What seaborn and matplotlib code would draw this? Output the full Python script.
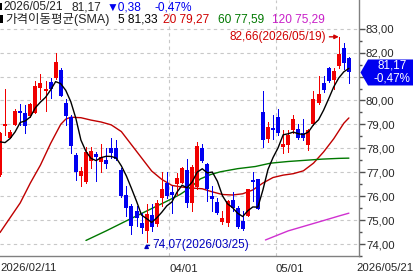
import numpy as np
import pandas as pd
import matplotlib
matplotlib.use("Agg")
import matplotlib.pyplot as plt
import seaborn as sns
from matplotlib.patches import Polygon, Rectangle
from matplotlib.transforms import IdentityTransform

# ---------------- data ----------------
opens = [76.90, 78.94, 78.45, 78.99, 79.54, 79.49, 79.35, 79.49, 80.52, 80.41,
         80.78, 80.92, 81.28, 79.90, 79.31, 77.72, 76.83, 76.59, 77.47, 77.75,
         77.42, 77.52, 78.03, 78.03, 77.10, 76.03, 75.59, 75.38, 74.90, 74.55,
         75.21, 74.83, 75.93, 76.55, 76.18, 76.52, 76.56, 77.11, 75.70, 76.39,
         78.00, 77.33, 76.00, 75.75, 74.92, 74.88, 75.83, 75.52, 74.97, 75.17,
         76.69, 76.72, 79.51, 78.38, 78.85, 79.31, 78.07, 78.14, 78.76, 78.82,
         78.62, 78.14, 79.03, 79.90, 80.75, 81.37, 80.86, 81.44, 82.20, 81.79]
highs = [78.70, 80.48, 78.76, 79.65, 79.86, 79.79, 79.88, 80.82, 81.10, 80.82,
         80.96, 81.99, 81.37, 80.07, 79.38, 77.79, 77.24, 78.07, 78.07, 77.86,
         78.16, 78.00, 78.44, 78.34, 77.17, 76.41, 75.66, 75.59, 75.31, 75.66,
         75.66, 75.82, 77.03, 77.03, 76.41, 76.96, 77.22, 77.56, 77.29, 78.25,
         78.20, 77.38, 76.41, 75.93, 75.38, 75.86, 76.18, 75.59, 75.38, 76.31,
         77.03, 76.72, 80.41, 79.10, 79.38, 79.65, 78.76, 78.76, 79.38, 79.03,
         79.24, 78.82, 80.41, 81.03, 81.03, 81.40, 81.37, 82.66, 82.41, 81.83]
lows = [76.85, 78.55, 78.42, 78.96, 78.96, 78.62, 79.31, 79.49, 80.07, 79.58,
        80.09, 80.89, 80.17, 78.96, 77.79, 76.69, 76.41, 76.55, 77.17, 76.62,
        77.03, 77.17, 77.58, 77.52, 75.96, 75.17, 74.42, 74.76, 74.48, 74.07,
        74.55, 74.76, 75.59, 75.93, 75.31, 76.07, 76.53, 75.56, 75.38, 76.32,
        77.42, 75.78, 75.38, 75.24, 74.84, 74.76, 75.38, 74.66, 74.59, 75.17,
        75.79, 75.45, 78.07, 78.25, 78.41, 78.55, 77.79, 77.86, 78.62, 78.38,
        78.34, 77.93, 78.96, 79.86, 80.34, 80.78, 80.48, 81.37, 81.31, 80.75]
closes = [78.62, 79.03, 78.69, 79.58, 79.49, 78.94, 79.86, 80.62, 80.75, 80.48,
          80.48, 81.61, 80.20, 79.35, 78.11, 77.01, 77.06, 77.83, 77.89, 77.64,
          77.64, 77.34, 77.79, 77.56, 76.00, 75.52, 74.76, 75.10, 74.66, 75.27,
          74.72, 75.72, 76.28, 76.00, 76.07, 76.76, 77.18, 75.73, 77.24, 78.11,
          77.47, 76.32, 75.90, 75.31, 75.08, 75.79, 75.52, 74.73, 74.63, 76.28,
          76.59, 75.48, 78.34, 78.89, 78.78, 78.62, 78.20, 78.55, 79.24, 78.44,
          78.44, 78.76, 80.06, 80.27, 80.45, 80.82, 81.24, 81.93, 81.55, 81.17]

ma5_head = [78.27, 78.24, 78.41, 78.69]

ma20_idx = [0, 2, 4, 6, 8, 10, 12, 13, 14, 16, 18, 20, 22, 24, 26, 28, 30, 32, 34,
            36, 38, 40, 42, 44, 46, 48, 50, 52, 54, 56, 58, 60, 62, 64, 66, 68, 69]
ma20_val = [74.48, 75.10, 75.72, 76.55, 77.30, 78.20, 79.00, 79.22, 79.30, 79.28,
            79.18, 79.10, 78.98, 78.70, 78.15, 77.60, 77.05, 76.70, 76.45,
            76.38, 76.34, 76.31, 76.18, 76.07, 76.05, 76.10, 76.26, 76.55, 76.78,
            76.88, 76.94, 77.06, 77.38, 77.85, 78.40, 79.05, 79.27]

ma60_idx = [17, 21, 25, 29, 33, 35.6, 37.6, 39.6, 41.6, 43.6, 47, 50.5, 53.5, 57,
            60.4, 63.8, 67, 69]
ma60_val = [74.15, 74.55, 74.97, 75.38, 75.79, 76.07, 76.35, 76.72, 76.90, 77.02,
            77.15, 77.24, 77.38, 77.45, 77.50, 77.55, 77.58, 77.59]

ma120_idx = [52.5, 57, 60.4, 63.8, 67, 69]
ma120_val = [74.17, 74.55, 74.76, 74.97, 75.17, 75.29]

first_date = "2026-02-11"
last_date = "2026-05-21"
market_holidays = ["2026-02-16", "2026-04-03"]
first_label = "2026/02/11"
last_label = "2026/05/21"
y_ticks = [74, 75, 76, 77, 78, 79, 80, 81, 82, 83]

header_date = "2026/05/21"
last_close = 81.17
change = -0.38
change_pct = -0.47
sma_title = "가격이동평균(SMA)"
sma_periods = [5, 20, 60, 120]
sma_last = [81.33, 79.27, 77.59, 75.29]
high_val, high_date = 82.66, "2026/05/19"
low_val, low_date = 74.07, "2026/03/25"

# ---------------- style ----------------
sns.set_theme(style="white")
plt.rcParams['font.family'] = ['Liberation Sans', 'Noto Sans CJK KR', 'DejaVu Sans']
plt.rcParams['font.size'] = 8

RED = "#F00000"
BLUE = "#0000F0"
MA_COLORS = ["#000000", "#C00000", "#007800", "#D030D0"]
TXT_COLORS = ["#000000", "#D00000", "#007800", "#C820C8"]
GRID = "#C8C8C8"
AXC = "#808080"
FS = 8.2
PX = 72 / 100  # one pixel in points

def fmt(v):
    return f"{v:.2f}".replace(".", ",")

W, H = 414, 275
fig = plt.figure(figsize=(W / 100, H / 100), dpi=100)
fig.patch.set_facecolor("white")
ax = fig.add_axes([0, 19 / H, 359 / W, 256 / H])
ax.set_facecolor("white")

dates = pd.bdate_range(first_date, last_date, freq="C", holidays=market_holidays)
n = len(dates)
idx = np.arange(n)

o = np.array(opens); c = np.array(closes)
hi = np.array(highs); lo = np.array(lows)
up = c >= o
cols = np.where(up, RED, BLUE)

XMAX = 71.0
ax.set_xlim(0, XMAX)
ax.set_ylim(73.616, 84.199)

# grid
for v in y_ticks:
    ax.axhline(v, color=GRID, lw=0.8, ls=(0, (3, 3)), zorder=0)

# week / month ticks (a month label is skipped if it would sit on the first date label)
week_start = [i for i in range(1, n) if dates[i].weekday() < dates[i - 1].weekday()]
month_start = [i for i in range(1, n) if dates[i].month != dates[i - 1].month]
month_shown = [i for i in month_start if (i - 0.5) / XMAX * 359 > 62]
for i in month_shown:
    ax.axvline(i - 0.5, color=GRID, lw=0.8, ls=(0, (3, 3)), zorder=0)
ax.set_xticks([i - 0.5 for i in month_shown])
ax.set_xticklabels([dates[i].strftime("%m/%d") for i in month_shown], ha="left")
minor_pos = sorted(set(week_start + month_start) - set(month_shown))
ax.set_xticks([i - 0.5 for i in minor_pos], minor=True)
ax.tick_params(axis="x", which="major", direction="out", length=4, width=1,
               color="#505050", pad=1.5, labelsize=FS)
ax.tick_params(axis="x", which="minor", direction="out", length=3, width=1,
               color="#505050")

# candles: 1 px wicks, 4 px bodies
ax.vlines(idx, lo, hi, colors=cols, lw=1 * PX, zorder=3, antialiased=False)
body_h = np.maximum(np.abs(c - o), 0.045)
body_lo = np.minimum(o, c)
ax.vlines(idx, body_lo, body_lo + body_h, colors=cols, lw=4 * PX, zorder=4,
          antialiased=False, capstyle="butt")

# moving averages
ma5 = pd.Series(closes).rolling(5).mean().to_numpy()
ma5[:4] = ma5_head
sns.lineplot(x=idx, y=ma5, ax=ax, color=MA_COLORS[0], lw=1, estimator=None, sort=False, zorder=5)
sns.lineplot(x=ma20_idx, y=ma20_val, ax=ax, color=MA_COLORS[1], lw=1, estimator=None, sort=False, zorder=2)
sns.lineplot(x=ma60_idx, y=ma60_val, ax=ax, color=MA_COLORS[2], lw=1, estimator=None, sort=False, zorder=2)
sns.lineplot(x=ma120_idx, y=ma120_val, ax=ax, color=MA_COLORS[3], lw=1, estimator=None, sort=False, zorder=2)

# y axis on right; the label hidden by the price tag is left out
ax.yaxis.tick_right()
ax.set_yticks(y_ticks)
ax.set_yticklabels(["" if abs(v - last_close) < 0.45 else fmt(v) for v in y_ticks])
ax.set_yticks([v + 0.5 for v in y_ticks[:-1]] + [y_ticks[0] - 0.5], minor=True)
ax.tick_params(axis="y", which="major", direction="out", length=4, width=1,
               color="#505050", pad=1, labelsize=FS)
ax.tick_params(axis="y", which="minor", direction="out", length=2.5, width=1,
               color="#505050")
ax.set_xlabel(""); ax.set_ylabel("")
for s in ["top", "left"]:
    ax.spines[s].set_visible(False)
for s in ["right", "bottom"]:
    ax.spines[s].set_color(AXC)
    ax.spines[s].set_linewidth(1)

# high / low annotations
i_hi = int(np.argmax(hi)); i_lo = int(np.argmin(lo))
ax.annotate(f"{fmt(high_val)}({high_date})", xy=(i_hi, high_val), xytext=(i_hi - 2.5, high_val),
            ha="right", va="center", color="#D00000", fontsize=8.5,
            arrowprops=dict(arrowstyle="-|>", color="#D00000", lw=1, shrinkA=0, shrinkB=0,
                            mutation_scale=6))
ax.annotate(f"{fmt(low_val)}({low_date})", xy=(i_lo, low_val - 0.05), xytext=(i_lo + 1.2, low_val - 0.12),
            ha="left", va="center", color="#0000C0", fontsize=8.5,
            arrowprops=dict(arrowstyle="-|>", color="#0000C0", lw=1, shrinkA=0, shrinkB=0,
                            mutation_scale=6, connectionstyle="angle,angleA=0,angleB=90,rad=0"))

# bottom edge labels
def ftext(x, y, s, **kw):
    fig.text(x / W, 1 - y / H, s, **kw)

ftext(0, 268, first_label, ha="left", va="center", fontsize=FS)
ftext(414, 268, last_label, ha="right", va="center", fontsize=FS)

# header
HS = 8.6
ftext(3, 7, header_date, ha="left", va="center", fontsize=HS)
ftext(72, 7, fmt(last_close), ha="left", va="center", fontsize=HS)
ftext(107, 7, "▼" + fmt(abs(change)), ha="left", va="center", fontsize=HS, color=BLUE)
ftext(155, 7, "-" + fmt(abs(change_pct)) + "%", ha="left", va="center", fontsize=HS, color=BLUE)
fig.add_artist(Rectangle((0, H - 10), 2, 7, transform=IdentityTransform(), color="black", lw=0))
fig.add_artist(Rectangle((0, H - 23), 2.5, 8, transform=IdentityTransform(), color="black", lw=0))
ftext(5, 19, sma_title, ha="left", va="center", fontsize=9)
xs = [118, 163, 218, 272]
for k in range(4):
    ftext(xs[k], 19, f"{sma_periods[k]} {fmt(sma_last[k])}", ha="left", va="center",
          fontsize=HS, color=TXT_COLORS[k])

# current price tag
fig.canvas.draw()
yc = ax.transData.transform((0, last_close))[1]
tag = Polygon([(360.5, yc), (368, yc + 13), (414, yc + 13), (414, yc - 13), (368, yc - 13)],
              closed=True, transform=IdentityTransform(), facecolor="#0000F0", edgecolor="none")
fig.add_artist(tag)
fig.text(392 / W, (yc + 6.5) / H, fmt(last_close), ha="center", va="center", color="white", fontsize=8.4)
fig.text(392 / W, (yc - 6.5) / H, "-" + fmt(abs(change_pct)) + "%", ha="center", va="center",
         color="white", fontsize=8.4)

fig.savefig("out.png", dpi=100)
